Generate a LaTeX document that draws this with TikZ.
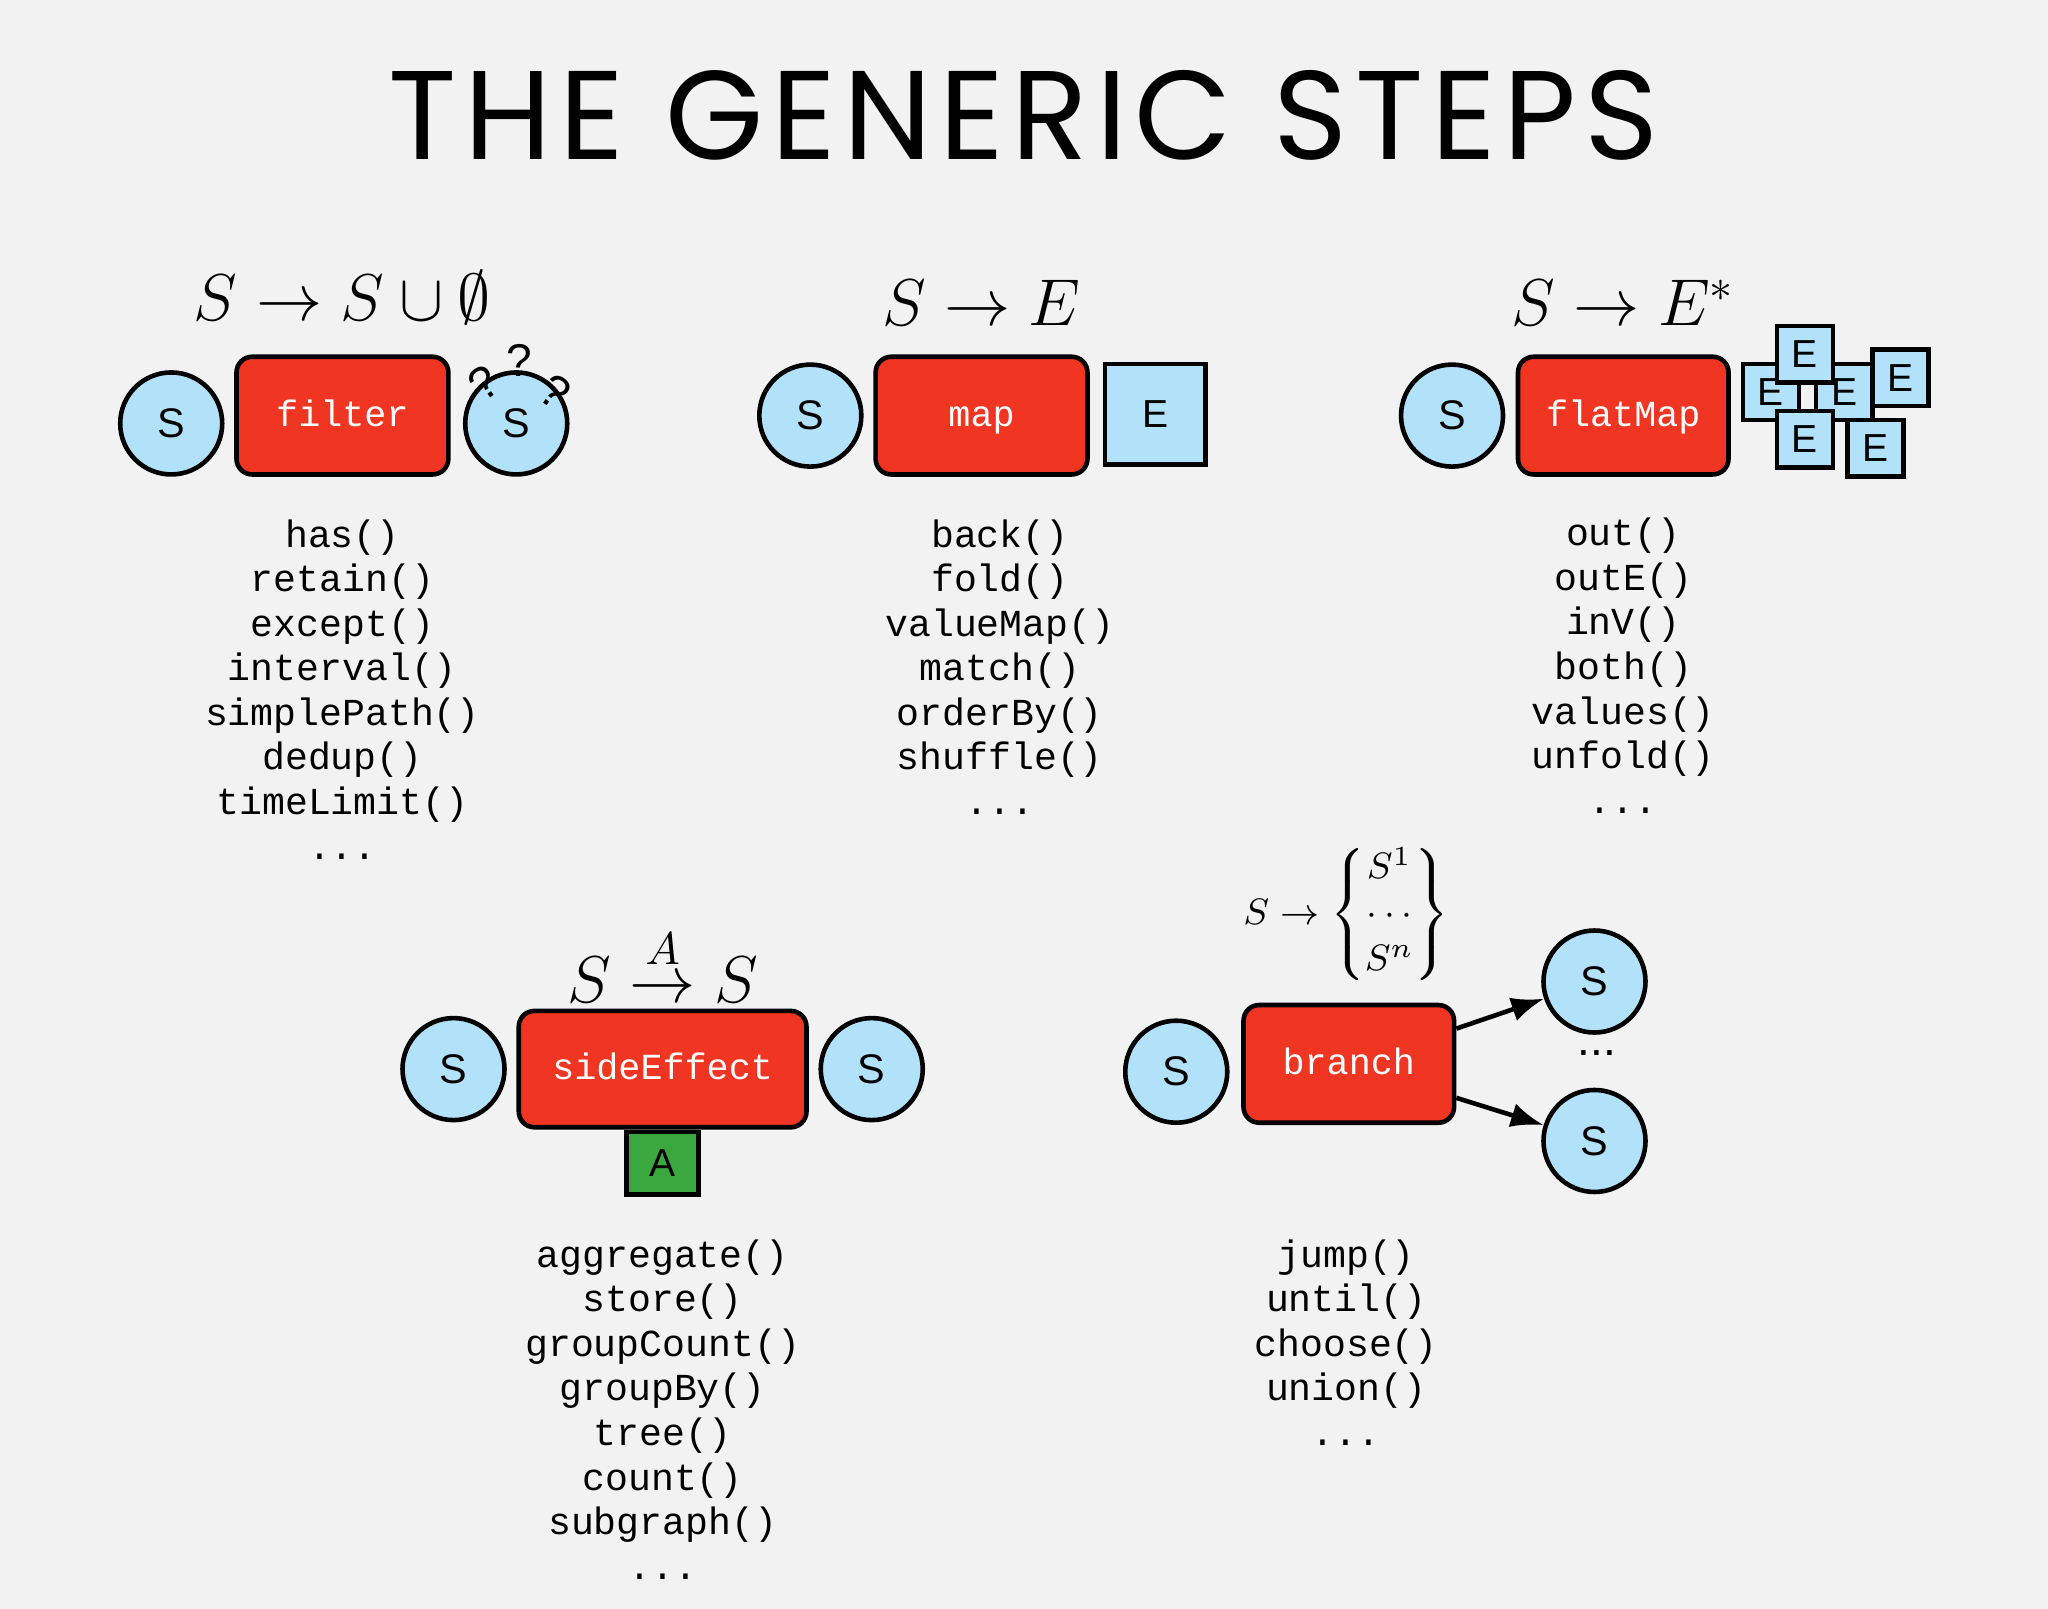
\documentclass[tikz,border=0pt]{standalone}
\usepackage{fontspec}
\usepackage{amsmath,amssymb}
\usetikzlibrary{arrows.meta}
\setsansfont{Liberation Sans}
\newfontfamily\titlefont[LetterSpace=6]{Poppins}
\newfontfamily\codefont{Liberation Mono}
\definecolor{bg}{RGB}{242,242,242}
\definecolor{sred}{RGB}{240,54,34}
\definecolor{sblue}{RGB}{178,226,250}
\definecolor{sgreen}{RGB}{58,168,62}
\tikzset{
 sc/.style={circle,draw,line width=1pt,fill=sblue,minimum size=0.78cm,inner sep=0pt,font=\sffamily\fontsize{9}{11}\selectfont},
 stepbox/.style={rectangle,rounded corners=0.12cm,draw,line width=1pt,fill=sred,text=white,inner sep=0pt,text height=1.5ex,text depth=0.4ex,font=\codefont\fontsize{8}{10}\selectfont},
 ebox/.style={rectangle,draw,line width=1pt,fill=sblue,minimum size=0.43cm,inner sep=0pt,font=\sffamily\fontsize{8.5}{10}\selectfont},
 lst/.style={align=center,font=\codefont\fontsize{8.3}{9.7}\selectfont,anchor=north},
 frm/.style={font=\fontsize{14}{16}\selectfont},
 qm/.style={font=\sffamily\fontsize{10}{12}\selectfont,inner sep=0pt}
}
\begin{document}
\begin{tikzpicture}[x=0.01cm,y=-0.01cm]
\fill[bg] (0,0) rectangle (1567,1231);
\useasboundingbox (0,0) rectangle (1567,1231);
\node (title) at (783,88) {\resizebox{9.71cm}{!}{\titlefont THE GENERIC STEPS}};
% filter
\node[frm] (f1) at (262,228) {$S\to S\cup\emptyset$};
\node[sc] (fs) at (131,324) {S};
\node[stepbox,minimum width=1.62cm,minimum height=0.9cm] (fb) at (262,318) {filter};
\node[sc] (fo) at (395,324) {S};
\node[qm,rotate=35] (q1) at (370,293) {?};
\node[qm] (q2) at (397,276) {?};
\node[qm,rotate=-35] (q3) at (425,300) {?};
\node[lst] (fl) at (262,385) {has()\\retain()\\except()\\interval()\\simplePath()\\dedup()\\timeLimit()\\...};
% map
\node[frm] (m1) at (751,232) {$S\to E$};
\node[sc] (ms) at (620,318) {S};
\node[stepbox,minimum width=1.62cm,minimum height=0.9cm] (mb) at (751,318) {map};
\node[ebox,minimum size=0.77cm] (me) at (884,317) {E};
\node[lst] (ml) at (765,385) {back()\\fold()\\valueMap()\\match()\\orderBy()\\shuffle()\\...};
% flatMap
\node[frm] (fm1) at (1242,232) {$S\to E^{*}$};
\node[sc] (fms) at (1111,318) {S};
\node[stepbox,minimum width=1.61cm,minimum height=0.9cm] (fmb) at (1242,318) {flatMap};
\node[ebox] (e1) at (1355,300) {E};
\node[ebox] (e2) at (1411,300) {E};
\node[ebox] (e3) at (1381,271) {E};
\node[ebox] (e4) at (1454,289) {E};
\node[ebox] (e5) at (1381,336) {E};
\node[ebox] (e6) at (1435,343) {E};
\node[lst] (fml) at (1242,384) {out()\\outE()\\inV()\\both()\\values()\\unfold()\\...};
% sideEffect
\node[frm] (s1) at (507,738) {$S\overset{A}{\to}S$};
\node[sc] (ss) at (347,818) {S};
\node[stepbox,minimum width=2.2cm,minimum height=0.89cm] (sb) at (507,818) {sideEffect};
\node[sc] (so) at (667,818) {S};
\node[ebox,fill=sgreen,minimum width=0.55cm,minimum height=0.48cm,anchor=north] (sa) at (sb.south) {A};
\node[lst] (sl) at (507,936) {aggregate()\\store()\\groupCount()\\groupBy()\\tree()\\count()\\subgraph()\\...};
% branch
\node[font=\fontsize{8}{10}\selectfont] (b1) at (1030,700) {$S\to\left\{\begin{matrix}S^1\\\cdots\\S^n\end{matrix}\right\}$};
\node[sc] (bs) at (900,820) {S};
\node[stepbox,minimum width=1.61cm,minimum height=0.9cm] (bb) at (1032,814) {branch};
\node[sc] (bo1) at (1220,751) {S};
\node[sc] (bo2) at (1220,873) {S};
\node[font=\sffamily\fontsize{10}{12}\selectfont] (bd) at (1222,806) {...};
\draw[line width=1pt,-{Latex[length=0.25cm]}] (bb.east |- 0,787) -- (bo1);
\draw[line width=1pt,-{Latex[length=0.25cm]}] (bb.east |- 0,840) -- (bo2);
\node[lst] (bl) at (1030,936) {jump()\\until()\\choose()\\union()\\...};
\end{tikzpicture}
\end{document}
